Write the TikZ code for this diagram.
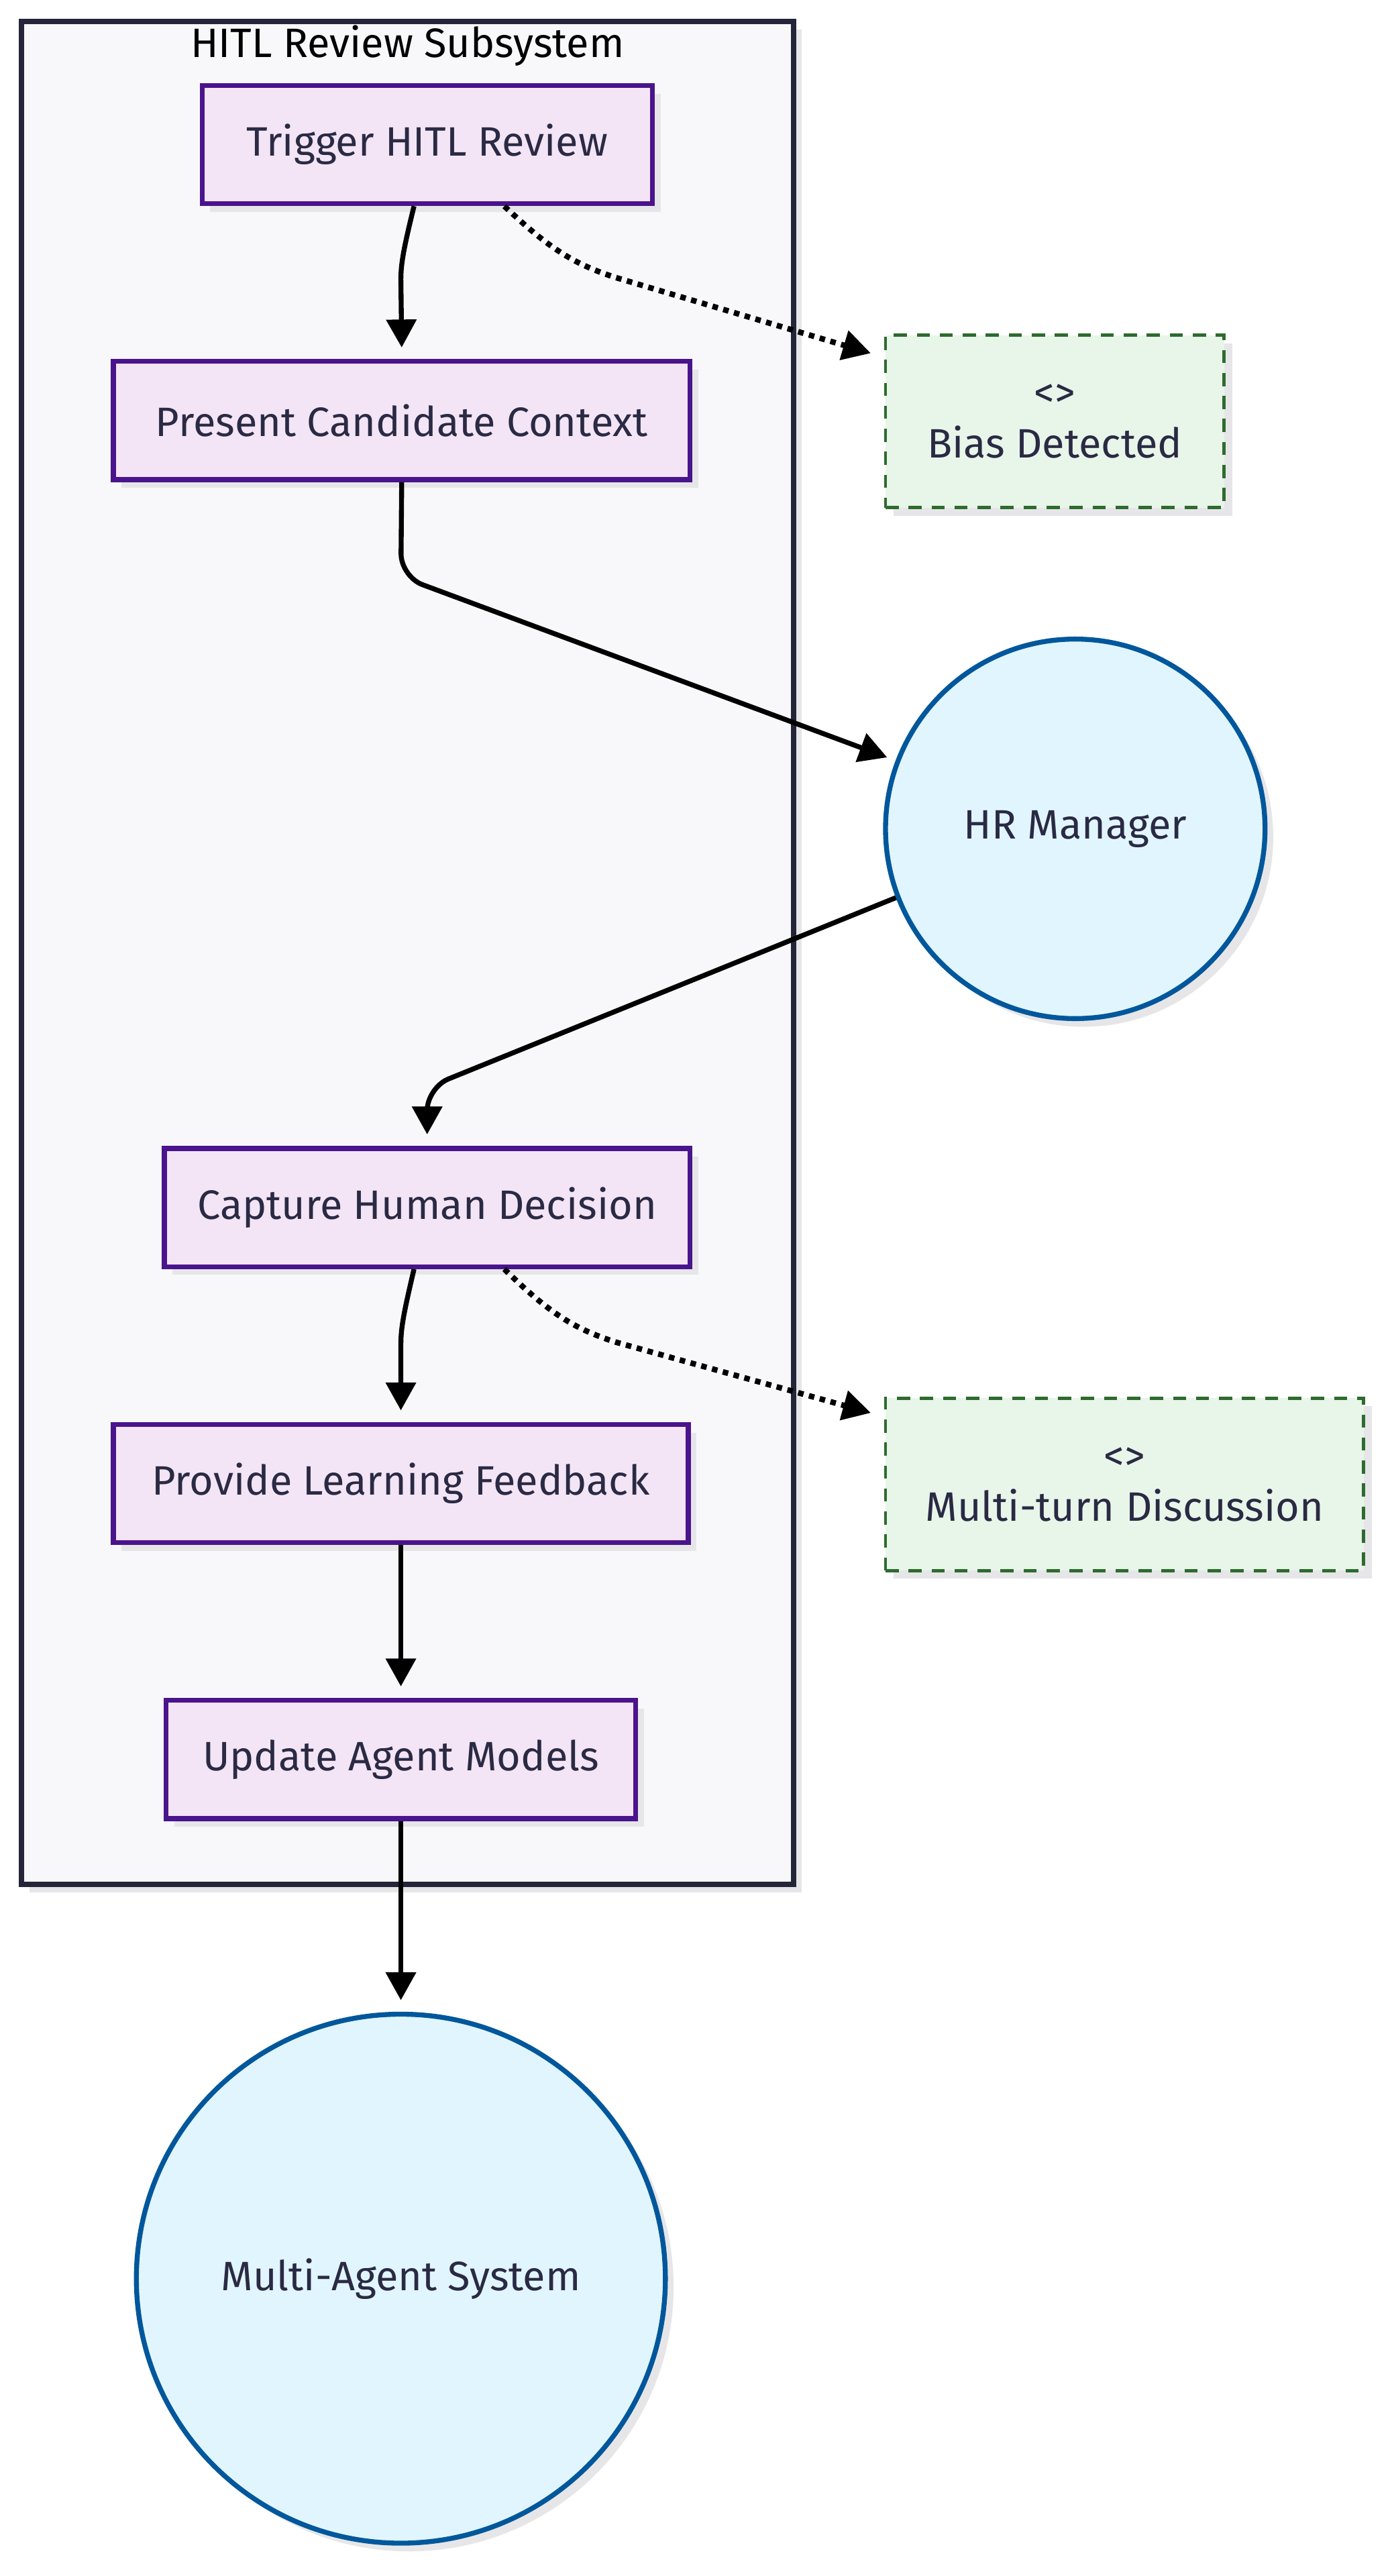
\documentclass[tikz,border=0pt]{standalone}
\usepackage{fontspec}
\setmainfont{Fira Sans}
\usetikzlibrary{arrows.meta,shadows}
\definecolor{subfill}{HTML}{F8F8FA}
\definecolor{subdraw}{HTML}{25253A}
\definecolor{procfill}{HTML}{F3E5F5}
\definecolor{procdraw}{HTML}{4A148C}
\definecolor{notefill}{HTML}{E8F5E9}
\definecolor{notedraw}{HTML}{2E6B2E}
\definecolor{actfill}{HTML}{E1F5FE}
\definecolor{actdraw}{HTML}{01579B}
\definecolor{txt}{HTML}{2A2A44}
\definecolor{shadowc}{HTML}{E6E6E9}
\tikzset{
  shad/.style={drop shadow={shadow xshift=5pt,shadow yshift=-5pt,fill=shadowc,opacity=1}},
  lbl/.style={text=txt,font=\fontsize{25}{31}\selectfont,align=center,inner sep=0pt},
  proc/.style={rectangle,draw=procdraw,fill=procfill,line width=3pt,lbl,shad,minimum height=72pt},
  note/.style={rectangle,draw=notedraw,fill=notefill,line width=2pt,dash pattern=on 8pt off 6pt,lbl,shad,minimum height=105pt},
  actor/.style={circle,draw=actdraw,fill=actfill,line width=3pt,lbl,shad},
  flow/.style={-{Triangle[length=17pt,width=18pt]},line width=3pt,black},
  dotflow/.style={flow,line width=3.4pt,dash pattern=on 3.4pt off 3.4pt}
}
\begin{document}
\begin{tikzpicture}[x=1pt,y=-1pt]
\useasboundingbox (0,0) rectangle (845.7,1568);
% subsystem
\node[rectangle,draw=subdraw,fill=subfill,line width=3.2pt,shad,minimum width=470pt,minimum height=1134pt,inner sep=0pt] (sub) at (248,580) {};
\node[text=black,font=\fontsize{25}{31}\selectfont,inner sep=0pt] (title) at (248,28) {HITL Review Subsystem};
% process nodes
\node[proc,minimum width=274pt] (trig) at (260,88) {Trigger HITL Review};
\node[proc,minimum width=351pt] (pres) at (244.5,256) {Present Candidate Context};
\node[proc,minimum width=320pt] (capt) at (260,735) {Capture Human Decision};
\node[proc,minimum width=350pt] (prov) at (244,903) {Provide Learning Feedback};
\node[proc,minimum width=286pt] (upd) at (244,1071) {Update Agent Models};
% notes
\node[note,minimum width=206pt] (bias) at (642,256.5) {<>\\Bias Detected};
\node[note,minimum width=291pt] (multi) at (684.5,903.5) {<>\\Multi-turn Discussion};
% actors
\node[actor,minimum size=231pt] (hr) at (654.5,504.5) {HR Manager};
\node[actor,minimum size=322pt] (mas) at (244,1387) {Multi-Agent System};
% connectors
\coordinate (c1) at (244,170);
\draw[flow] ([xshift=-8pt]trig.south) .. controls (246,150) and (244,160) .. (c1) -- ([yshift=7pt]pres.north);
\coordinate (d1) at (375,169);
\draw[dotflow] ([xshift=47pt]trig.south) .. controls (335,152) and (350,161) .. (d1) -- (530,215);
\coordinate (e1) at (244,351);
\draw[flow,rounded corners=14pt] (pres.south) -- (e1) -- (540,461);
\coordinate (f1) at (260,662);
\draw[flow,rounded corners=14pt] (hr.201.7) -- (f1) -- ([yshift=7pt]capt.north);
\coordinate (c2) at (244,818);
\draw[flow] ([xshift=-8pt]capt.south) .. controls (246,798) and (244,808) .. (c2) -- ([yshift=7pt]prov.north);
\coordinate (d2) at (375,817);
\draw[dotflow] ([xshift=47pt]capt.south) .. controls (335,800) and (350,809) .. (d2) -- (530,860);
\draw[flow] (prov.south) -- ([yshift=7pt]upd.north);
\draw[flow] (upd.south) -- ([yshift=7pt]mas.north);
\end{tikzpicture}
\end{document}
